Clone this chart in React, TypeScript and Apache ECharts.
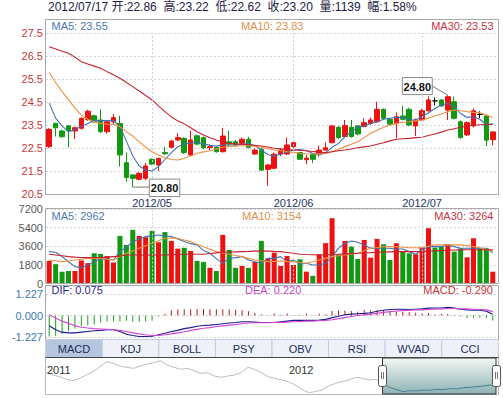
import React, { useEffect, useRef } from 'react';
import * as echarts from 'echarts';

const dates = [
  '2012-04-06', '2012-04-09', '2012-04-10', '2012-04-11', '2012-04-12', '2012-04-13',
  '2012-04-16', '2012-04-17', '2012-04-18', '2012-04-19', '2012-04-20',
  '2012-04-23', '2012-04-24', '2012-04-25', '2012-04-26', '2012-04-27',
  '2012-05-02', '2012-05-03', '2012-05-04',
  '2012-05-07', '2012-05-08', '2012-05-09', '2012-05-10', '2012-05-11',
  '2012-05-14', '2012-05-15', '2012-05-16', '2012-05-17', '2012-05-18',
  '2012-05-21', '2012-05-22', '2012-05-23', '2012-05-24', '2012-05-25',
  '2012-05-28', '2012-05-29', '2012-05-30', '2012-05-31',
  '2012-06-01', '2012-06-04', '2012-06-05', '2012-06-06', '2012-06-07', '2012-06-08',
  '2012-06-11', '2012-06-12', '2012-06-13', '2012-06-14', '2012-06-15',
  '2012-06-18', '2012-06-19', '2012-06-20', '2012-06-21',
  '2012-06-25', '2012-06-26', '2012-06-27', '2012-06-28', '2012-06-29',
  '2012-07-02', '2012-07-03', '2012-07-04', '2012-07-05', '2012-07-06',
  '2012-07-09', '2012-07-10', '2012-07-11', '2012-07-12', '2012-07-13',
  '2012-07-16', '2012-07-17',
];

const opens = [
  22.56, 23.57, 23.24, 23.46, 23.24, 23.36, 23.74, 23.90, 23.72, 23.21,
  23.64, 23.57, 21.86, 21.33, 21.14, 21.18, 22.01, 21.76, 22.30, 22.53,
  22.85, 22.92, 22.20, 23.03, 22.95, 22.52, 22.53, 22.34, 22.77, 22.77,
  22.71, 22.88, 22.24, 22.44, 21.57, 21.62, 22.24, 22.24, 22.56, 22.30,
  21.99, 22.23, 22.27, 22.41, 22.73, 23.40, 23.00, 23.40, 23.46, 23.43,
  23.57, 23.64, 24.18, 23.75, 23.57, 23.89, 24.18, 23.46, 23.72, 24.12,
  24.55, 24.59, 24.15, 24.51, 23.64, 23.07, 23.46, 23.96, 23.89, 22.86,
];
const closes = [
  23.31, 23.38, 22.99, 23.24, 23.38, 23.79, 24.10, 23.64, 23.21, 23.64,
  23.82, 22.20, 21.22, 21.18, 21.40, 21.72, 21.80, 22.05, 22.25, 22.80,
  22.95, 22.30, 22.85, 22.67, 22.51, 22.56, 22.34, 23.02, 22.67, 22.63,
  22.88, 22.53, 22.41, 21.54, 21.76, 22.23, 22.41, 22.63, 22.73, 22.01,
  22.06, 22.01, 22.41, 22.51, 23.46, 22.95, 23.47, 23.00, 23.11, 23.60,
  23.72, 24.18, 23.79, 23.54, 23.86, 23.75, 23.50, 23.72, 24.12, 24.59,
  24.55, 24.33, 24.73, 23.79, 22.96, 23.60, 24.12, 23.96, 22.84, 23.20,
];
const lows = [
  22.50, 23.00, 22.95, 22.53, 22.89, 23.30, 23.68, 23.60, 23.15, 23.12,
  23.55, 21.69, 21.03, 20.80, 21.10, 21.10, 21.75, 21.51, 22.20, 22.49,
  22.80, 22.24, 22.15, 22.62, 22.45, 22.40, 22.30, 22.30, 22.60, 22.55,
  22.65, 22.48, 22.20, 21.50, 20.85, 21.58, 22.15, 22.20, 22.50, 21.98,
  21.80, 21.85, 22.12, 22.38, 22.70, 22.90, 22.95, 22.95, 23.05, 23.40,
  23.50, 23.60, 23.75, 23.50, 22.92, 23.70, 23.45, 23.02, 23.68, 24.08,
  24.35, 24.28, 23.72, 23.75, 22.90, 23.02, 23.40, 23.80, 22.59, 22.62,
];
const highs = [
  23.36, 23.60, 23.30, 23.50, 23.42, 23.83, 24.16, 23.95, 24.18, 23.70,
  23.98, 23.90, 22.30, 21.36, 21.45, 21.85, 22.05, 22.08, 22.56, 22.85,
  23.14, 22.97, 23.25, 23.08, 23.00, 22.65, 22.58, 23.38, 23.25, 22.85,
  22.95, 22.98, 22.48, 22.50, 21.80, 22.30, 22.50, 22.96, 22.78, 22.33,
  22.20, 22.27, 22.60, 22.75, 23.50, 23.45, 23.72, 23.72, 23.50, 23.80,
  23.83, 24.51, 24.22, 23.80, 24.05, 24.34, 24.25, 23.78, 24.20, 24.75,
  24.70, 24.62, 24.80, 24.73, 23.70, 23.65, 24.22, 24.10, 23.95, 23.22,
];

const priceMA5 = [
  24.45, 23.80, 23.45, 23.21, 23.30, 23.43, 23.57, 23.69, 23.69, 23.69,
  23.69, 23.43, 22.80, 22.15, 21.72, 21.54, 21.50, 21.69, 22.00, 22.30,
  22.55, 22.68, 22.72, 22.75, 22.68, 22.62, 22.58, 22.62, 22.63, 22.63,
  22.66, 22.70, 22.60, 22.41, 22.22, 22.15, 22.22, 22.34, 22.41, 22.43,
  22.38, 22.27, 22.20, 22.30, 22.53, 22.70, 22.99, 23.21, 23.40, 23.46,
  23.57, 23.64, 23.75, 23.79, 23.83, 23.83, 23.72, 23.72, 23.86, 24.03,
  24.22, 24.37, 24.44, 24.30, 24.00, 23.83, 23.86, 23.75, 23.50, 23.55,
];
const priceMA10 = [
  25.78, 25.35, 24.95, 24.59, 24.23, 23.93, 23.74, 23.64, 23.57, 23.53,
  23.53, 23.43, 23.21, 23.02, 22.77, 22.53, 22.34, 22.20, 22.08, 22.00,
  21.98, 22.05, 22.15, 22.27, 22.33, 22.38, 22.46, 22.53, 22.57, 22.59,
  22.60, 22.60, 22.57, 22.53, 22.47, 22.41, 22.38, 22.34, 22.31, 22.27,
  22.25, 22.24, 22.24, 22.26, 22.34, 22.45, 22.56, 22.66, 22.77, 22.95,
  23.14, 23.27, 23.40, 23.49, 23.57, 23.61, 23.64, 23.68, 23.72, 23.80,
  23.89, 23.98, 24.08, 24.15, 24.12, 24.08, 24.05, 24.03, 23.93, 23.83,
];
const priceMA30 = [
  26.90, 26.80, 26.71, 26.62, 26.45, 26.25, 26.15, 26.06, 25.97, 25.82,
  25.68, 25.53, 25.35, 25.17, 24.98, 24.78, 24.59, 24.33, 24.08, 23.85,
  23.68, 23.55, 23.38, 23.21, 23.07, 22.95, 22.85, 22.76, 22.70, 22.68,
  22.67, 22.64, 22.62, 22.59, 22.54, 22.49, 22.46, 22.43, 22.41, 22.40,
  22.38, 22.35, 22.32, 22.30, 22.34, 22.38, 22.41, 22.46, 22.51, 22.55,
  22.59, 22.66, 22.73, 22.81, 22.88, 22.90, 22.92, 22.95, 22.97, 23.04,
  23.11, 23.19, 23.28, 23.34, 23.40, 23.46, 23.49, 23.51, 23.52, 23.53,
];

const volumes = [
  2180, 1870, 1130, 1210, 1210, 2230, 1970, 2920, 2855, 2650,
  2030, 4600, 3730, 5180, 4600, 4470, 5080, 3985, 4970, 4115,
  3370, 3450, 3150, 2180, 2070, 1520, 1210, 4700, 3245, 1520,
  1695, 1520, 2070, 4115, 2420, 2980, 1695, 2660, 1790, 2340,
  1145, 740, 2823, 3900, 6310, 2823, 4115, 3565, 2370, 4210,
  2500, 4310, 3790, 2275, 3890, 3145, 2920, 2825, 3500, 5340,
  3470, 3565, 3790, 3080, 3400, 2530, 4370, 3400, 3400, 1139,
];
const volMA5 = [
  3080, 3015, 2600, 2100, 1630, 1530, 1790, 2100, 2370, 2400,
  2270, 3080, 3500, 4050, 4300, 4530, 4600, 4690, 4620, 4530,
  4300, 4050, 3850, 3730, 3200, 2920, 2400, 1950, 2430, 2500,
  2600, 2270, 2100, 1950, 2430, 2430, 2600, 2110, 2270, 1855,
  1950, 1790, 1790, 1950, 2600, 3400, 3890, 4110, 3985, 3730,
  3400, 3400, 3400, 3400, 3340, 3340, 3080, 2820, 3240, 3565,
  3565, 3565, 3730, 3565, 3400, 3400, 3400, 3400, 3400, 2962,
];
const volMA10 = [
  2275, 2200, 2110, 2180, 2270, 2350, 2430, 2430, 2430, 2350,
  2270, 2600, 2920, 3150, 3400, 3650, 3890, 4130, 4370, 4400,
  4370, 4200, 4050, 3800, 3560, 3300, 3080, 2950, 2820, 2700,
  2600, 2430, 2270, 2200, 2110, 2140, 2175, 2140, 2110, 2030,
  1950, 2100, 2270, 2430, 2600, 2680, 2760, 2840, 2920, 3160,
  3400, 3480, 3560, 3560, 3560, 3510, 3460, 3460, 3460, 3600,
  3730, 3730, 3730, 3730, 3730, 3650, 3560, 3450, 3300, 3154,
];
const volMA30 = [
  2825, 2760, 2680, 2600, 2550, 2520, 2500, 2500, 2500, 2550,
  2600, 2650, 2760, 2760, 2760, 2760, 2760, 2760, 2760, 2790,
  2800, 2825, 2825, 2825, 2825, 2900, 2960, 3015, 3040, 3060,
  3080, 3100, 3130, 3150, 3130, 3100, 3080, 3000, 2920, 2825,
  2800, 2780, 2760, 2760, 2800, 2825, 2860, 2890, 2920, 2950,
  2980, 3015, 3040, 3060, 3080, 3080, 3080, 3080, 3100, 3130,
  3150, 3180, 3210, 3240, 3250, 3255, 3260, 3262, 3263, 3264,
];

const dif = [
  -0.59, -0.81, -0.95, -0.99, -0.99, -0.95, -0.91, -0.87, -0.85, -0.81,
  -0.81, -0.91, -1.07, -1.14, -1.20, -1.20, -1.18, -1.10, -1.01, -0.91,
  -0.85, -0.75, -0.69, -0.61, -0.57, -0.55, -0.51, -0.47, -0.43, -0.40,
  -0.36, -0.36, -0.38, -0.40, -0.40, -0.40, -0.36, -0.32, -0.28, -0.28,
  -0.28, -0.28, -0.26, -0.22, -0.12, -0.04, 0.04, 0.08, 0.10, 0.12,
  0.16, 0.24, 0.30, 0.34, 0.36, 0.36, 0.34, 0.36, 0.38, 0.42,
  0.43, 0.43, 0.47, 0.42, 0.36, 0.32, 0.30, 0.30, 0.24, 0.075,
];
const dea = [
  0.04, -0.16, -0.32, -0.45, -0.59, -0.67, -0.71, -0.75, -0.77, -0.79,
  -0.81, -0.85, -0.91, -0.99, -1.05, -1.10, -1.14, -1.14, -1.10, -1.05,
  -0.99, -0.93, -0.85, -0.79, -0.73, -0.69, -0.63, -0.59, -0.55, -0.51,
  -0.47, -0.43, -0.41, -0.41, -0.41, -0.40, -0.40, -0.38, -0.36, -0.34,
  -0.32, -0.32, -0.30, -0.28, -0.24, -0.18, -0.12, -0.06, 0.00, 0.04,
  0.08, 0.12, 0.18, 0.22, 0.26, 0.28, 0.30, 0.32, 0.32, 0.34,
  0.36, 0.38, 0.40, 0.40, 0.38, 0.38, 0.36, 0.34, 0.32, 0.22,
];
const macdHist = [
  -1.20, -1.15, -1.05, -0.90, -0.75, -0.62, -0.55, -0.50, -0.40, -0.34,
  -0.34, -0.34, -0.30, -0.36, -0.36, -0.34, -0.30, -0.06, 0.10, 0.30,
  0.34, 0.36, 0.36, 0.37, 0.37, 0.36, 0.36, 0.35, 0.34, 0.33,
  0.30, 0.24, 0.14, 0.06, 0.02, 0.12, 0.04, 0.12, 0.02, 0.04,
  0.12, 0.02, 0.10, 0.06, 0.26, 0.28, 0.28, 0.26, 0.22, 0.32,
  0.30, 0.30, 0.28, 0.26, 0.24, 0.20, 0.18, 0.16, 0.12, 0.14,
  0.06, 0.10, 0.08, 0.04, -0.06, -0.14, -0.14, -0.12, -0.16, -0.29,
];

const monthStarts = ['2012-05-02', '2012-06-01', '2012-07-02'];
const monthLabels = ['2012/05', '2012/06', '2012/07'];

const priceMin = 20.5, priceMax = 27.5, priceStep = 1;
const volMin = 0, volMax = 7200, volStep = 1800;
const macdMin = -1.227, macdMax = 1.227, macdStep = 1.227;

const tabNames = ['MACD', 'KDJ', 'BOLL', 'PSY', 'OBV', 'RSI', 'WVAD', 'CCI'];
const yearLabels = ['2011', '2012'];
const history = [
  27.7, 27.0, 26.5, 25.7, 25.3, 26.0, 27.0, 28.0, 29.5, 31.0,
  30.5, 29.7, 29.3, 29.0, 29.7, 30.3, 30.7, 31.3, 30.0, 29.3,
  28.7, 29.0, 28.3, 27.5, 27.7, 26.7, 26.3, 26.7, 27.0, 27.7,
  29.3, 28.7, 27.7, 26.5, 26.0, 25.5, 25.0, 24.0, 22.7, 21.7,
  22.0, 22.5, 23.7, 24.5, 25.0, 25.5, 26.3, 26.0, 25.5, 25.7,
  24.7, 23.3, 22.7, 22.0, 22.3, 22.2, 22.5, 22.4, 22.7, 22.6,
  22.9, 22.8, 23.2, 23.3, 23.5, 23.7, 24.0, 23.3,
];
const windowStart = 50;

const FONT = "Arial, 'Liberation Sans', 'Noto Sans CJK SC', sans-serif";
const RED = '#ee1111';
const GREEN = '#119911';
const C_MA5 = '#3f72b5';
const C_MA10 = '#f09040';
const C_MA30 = '#c8202e';

function txt(x: number, y: number, text: string, fill: string, size: number, align = 'left', weight = 'normal', z = 20): any {
  return {
    type: 'text', x, y, z, silent: true,
    style: {
      text, fill, font: `${weight} ${size}px ${FONT}`,
      align, verticalAlign: 'middle', textAlign: align, textVerticalAlign: 'middle',
    },
  };
}

export default function App() {
  const ref = useRef<HTMLDivElement>(null);
  useEffect(() => {
    const chart = echarts.init(ref.current!, undefined, { renderer: 'svg' });
    const n = dates.length;
    const last = n - 1;
    const up = (i: number) =>
      closes[i] > opens[i] || (closes[i] === opens[i] && i > 0 && closes[i] >= closes[i - 1]);

    const chg = ((closes[last] - closes[last - 1]) / closes[last - 1]) * 100;
    const sp = ' \u00a0';
    const header =
      `${dates[last].replace(/-/g, '/')} 开:${opens[last].toFixed(2)}${sp}高:${highs[last].toFixed(2)}${sp}` +
      `低:${lows[last].toFixed(2)}${sp}收:${closes[last].toFixed(2)}${sp}量:${volumes[last]}${sp}幅:${chg.toFixed(2)}%`;

    const hiddenX = (gi: number, data: string[], gap = true) => ({
      type: 'category', gridIndex: gi, data, boundaryGap: gap,
      axisLine: { show: false }, axisTick: { show: false }, axisLabel: { show: false }, splitLine: { show: false },
    });
    const split = { show: true, lineStyle: { color: '#d4d4d4', type: [2, 2], width: 1 } };
    const monthMark = {
      silent: true, symbol: ['none', 'none'], label: { show: false },
      lineStyle: { color: '#cfcfcf', type: [2, 2], width: 1 },
      emphasis: { disabled: true },
      data: monthStarts.map((d) => ({ xAxis: d })),
    };
    const maLine = (name: string, data: number[], color: string, xi: number, yi: number) => ({
      type: 'line', name, data, xAxisIndex: xi, yAxisIndex: yi, showSymbol: false, symbol: 'none',
      lineStyle: { color, width: 1.1 }, itemStyle: { color }, z: 3, silent: true,
    });

    const graphics: any[] = [];
    graphics.push(txt(48, 7, header, '#1c1c44', 12));
    const border = (y: number, h: number) => ({
      type: 'rect', z: 15, silent: true, shape: { x: 45.5, y, width: 453, height: h },
      style: { fill: 'none', stroke: '#a9a9a9', lineWidth: 1 },
    });
    graphics.push(border(19.5, 175));
    graphics.push(border(208.5, 75));
    graphics.push(border(285.5, 54));
    graphics.push(txt(51.5, 25.5, `MA5: ${priceMA5[last].toFixed(2)}`, '#4a78b0', 11));
    graphics.push(txt(241, 25.5, `MA10: ${priceMA10[last].toFixed(2)}`, '#e09048', 11));
    graphics.push(txt(493.5, 25.5, `MA30: ${priceMA30[last].toFixed(2)}`, '#cc3344', 11, 'right'));
    graphics.push(txt(51.5, 215.5, `MA5: ${volMA5[last]}`, '#4a78b0', 11));
    graphics.push(txt(242, 215.5, `MA10: ${volMA10[last]}`, '#e09048', 11));
    graphics.push(txt(493.5, 215.5, `MA30: ${volMA30[last]}`, '#cc3344', 11, 'right'));
    graphics.push(txt(51.5, 290, `DIF: ${dif[last].toFixed(3)}`, '#2a2a90', 11));
    graphics.push(txt(245, 290, `DEA: ${dea[last].toFixed(3)}`, '#cc44cc', 11));
    graphics.push(txt(493, 290, `MACD: ${macdHist[last].toFixed(3)}`, '#cc3333', 11, 'right'));
    const tabW = 452.6 / tabNames.length;
    tabNames.forEach((t, k) => {
      graphics.push({
        type: 'rect', z: 16, silent: true,
        shape: { x: 45.7 + k * tabW, y: 339.5, width: tabW, height: 18 },
        style: { fill: k === 0 ? '#b6c6de' : '#eef2f8', stroke: '#c4ccdc', lineWidth: 1 },
      });
      graphics.push(txt(45.7 + k * tabW + tabW / 2, 348.7, t, '#1e2c5c', 11, 'center', 'normal', 17));
    });
    graphics.push({
      type: 'rect', z: 0, silent: true, shape: { x: 45.5, y: 357.5, width: 453, height: 37 },
      style: { fill: '#ffffff', stroke: '#b8b8b8', lineWidth: 1 },
    });
    graphics.push({
      type: 'rect', z: 1, silent: true, shape: { x: 382.5, y: 358, width: 113.5, height: 36 },
      style: {
        fill: {
          type: 'linear', x: 0, y: 0, x2: 0, y2: 1,
          colorStops: [{ offset: 0, color: '#f3f8f6' }, { offset: 1, color: '#8db2b2' }],
        },
        stroke: '#333', lineWidth: 1,
      },
    });
    graphics.push({
      type: 'line', z: 16, silent: true, shape: { x1: 45.5, y1: 357.5, x2: 498.5, y2: 357.5 },
      style: { stroke: '#444', lineWidth: 1 },
    });
    [378.5, 492.5].forEach((hx) => {
      graphics.push({
        type: 'rect', z: 20, silent: true, shape: { x: hx, y: 365.5, width: 8, height: 21, r: 2 },
        style: { fill: '#ffffff', stroke: '#555', lineWidth: 1 },
      });
      [hx + 3, hx + 5].forEach((lx) =>
        graphics.push({
          type: 'line', z: 21, silent: true, shape: { x1: lx, y1: 372, x2: lx, y2: 379 },
          style: { stroke: '#777', lineWidth: 1 },
        }),
      );
    });
    graphics.push(txt(47, 369.5, yearLabels[0], '#333', 11, 'left', 'normal', 18));
    graphics.push(txt(289, 369.5, yearLabels[1], '#333', 11, 'left', 'normal', 18));

    const option: any = {
      animation: false,
      textStyle: { fontFamily: FONT },
      grid: [
        { left: 46, right: 7, top: 33, height: 161 },
        { left: 46, right: 7, top: 209, height: 74.5 },
        { left: 46, right: 7, top: 294, height: 43 },
        { left: 46, right: 6, top: 358, height: 36 },
      ],
      xAxis: [
        {
          type: 'category', gridIndex: 0, data: dates, boundaryGap: true,
          axisLine: { show: false }, axisTick: { show: false }, splitLine: { show: false },
          axisLabel: {
            interval: (_i: number, v: string) => monthStarts.includes(v),
            formatter: (v: string) => monthLabels[monthStarts.indexOf(v)] ?? '',
            color: '#22335f', fontSize: 11, margin: 3, fontFamily: FONT,
          },
        },
        hiddenX(1, dates),
        hiddenX(2, dates),
        hiddenX(3, history.map((_, i) => String(i)), false),
      ],
      yAxis: [
        {
          type: 'value', gridIndex: 0, min: priceMin, max: priceMax, interval: priceStep,
          axisLine: { show: false }, axisTick: { show: false }, splitLine: split,
          axisLabel: { formatter: (v: number) => v.toFixed(1), color: '#c83838', fontSize: 11, margin: 3, fontFamily: FONT },
        },
        {
          type: 'value', gridIndex: 1, min: volMin, max: volMax, interval: volStep,
          axisLine: { show: false }, axisTick: { show: false }, splitLine: split,
          axisLabel: { formatter: (v: number) => String(v), color: '#5a5a5a', fontSize: 11, margin: 3, fontFamily: FONT },
        },
        {
          type: 'value', gridIndex: 2, min: macdMin, max: macdMax, interval: macdStep,
          axisLine: { show: false }, axisTick: { show: false }, splitLine: split,
          axisLabel: { formatter: (v: number) => v.toFixed(3), color: '#3a7ab2', fontSize: 11, margin: 3, fontFamily: FONT },
        },
        {
          type: 'value', gridIndex: 3, min: 21.3, max: 32.1, show: false,
          axisLine: { show: false }, axisTick: { show: false }, axisLabel: { show: false }, splitLine: { show: false },
        },
      ],
      series: [
        {
          type: 'candlestick', name: 'K', xAxisIndex: 0, yAxisIndex: 0, barWidth: 5, silent: true,
          data: dates.map((_, i) => [opens[i], closes[i], lows[i], highs[i]]),
          itemStyle: {
            color: RED, color0: GREEN, borderColor: RED, borderColor0: GREEN,
            borderColorDoji: '#111', borderWidth: 1,
          },
          markLine: monthMark, z: 2,
        },
        maLine('MA5', priceMA5, C_MA5, 0, 0),
        maLine('MA10', priceMA10, C_MA10, 0, 0),
        maLine('MA30', priceMA30, C_MA30, 0, 0),
        {
          type: 'bar', name: 'VOL', xAxisIndex: 1, yAxisIndex: 1, barWidth: 5, silent: true,
          data: volumes.map((v, i) => ({ value: v, itemStyle: { color: up(i) ? RED : GREEN } })),
          markLine: monthMark,
        },
        maLine('VMA5', volMA5, C_MA5, 1, 1),
        maLine('VMA10', volMA10, C_MA10, 1, 1),
        maLine('VMA30', volMA30, C_MA30, 1, 1),
        {
          type: 'bar', name: 'MACD', xAxisIndex: 2, yAxisIndex: 2, barWidth: 1, silent: true,
          data: macdHist.map((v) => ({ value: v, itemStyle: { color: v >= 0 ? '#b01c1c' : '#1c9c1c' } })),
        },
        maLine('DIF', dif, '#1c1c8a', 2, 2),
        maLine('DEA', dea, '#d444d4', 2, 2),
        {
          type: 'line', name: 'hist', xAxisIndex: 3, yAxisIndex: 3, data: history, showSymbol: false,
          symbol: 'none', lineStyle: { color: '#bdbdbd', width: 1 }, silent: true, z: 2,
        },
        {
          type: 'line', name: 'histSel', xAxisIndex: 3, yAxisIndex: 3,
          data: history.map((v, i) => (i >= windowStart ? v : '-')), showSymbol: false,
          symbol: 'none', lineStyle: { color: '#3f7f98', width: 1 }, silent: true, z: 3,
        },
      ],
      graphic: graphics,
    };
    chart.setOption(option);

    const lowIdx = lows.indexOf(Math.min(...lows));
    const highIdx = highs.indexOf(Math.max(...highs));
    const pl = chart.convertToPixel({ gridIndex: 0 }, [lowIdx, lows[lowIdx]]) as number[];
    const ph = chart.convertToPixel({ gridIndex: 0 }, [highIdx, highs[highIdx]]) as number[];
    const ann: any[] = [];
    if (pl && ph) {
      ann.push({
        type: 'line', z: 90, silent: true, shape: { x1: pl[0], y1: pl[1], x2: pl[0] + 17, y2: pl[1] },
        style: { stroke: '#777', lineWidth: 1 },
      });
      ann.push({
        type: 'rect', z: 91, silent: true, shape: { x: pl[0] + 16.5, y: pl[1] - 8, width: 30.5, height: 17.5 },
        style: { fill: '#fff', stroke: '#888', lineWidth: 1 },
      });
      ann.push(txt(pl[0] + 31.75, pl[1] + 0.8, lows[lowIdx].toFixed(2), '#111', 11, 'center', 'bold', 92));
      const bx = ph[0] - 45.5, by = ph[1] - 17.5;
      ann.push({
        type: 'line', z: 90, silent: true, shape: { x1: bx + 30, y1: by + 8.5, x2: ph[0], y2: ph[1] },
        style: { stroke: '#777', lineWidth: 1 },
      });
      ann.push({
        type: 'rect', z: 91, silent: true, shape: { x: bx, y: by, width: 30, height: 17 },
        style: { fill: '#fff', stroke: '#888', lineWidth: 1 },
      });
      ann.push(txt(bx + 15, by + 9, highs[highIdx].toFixed(2), '#111', 11, 'center', 'bold', 92));
    }
    chart.setOption({ graphic: [...graphics, ...ann] });

    return () => chart.dispose();
  }, []);
  return <div ref={ref} style={{ position: 'absolute', left: 0, top: 0, width: 503, height: 398 }} />;
}
